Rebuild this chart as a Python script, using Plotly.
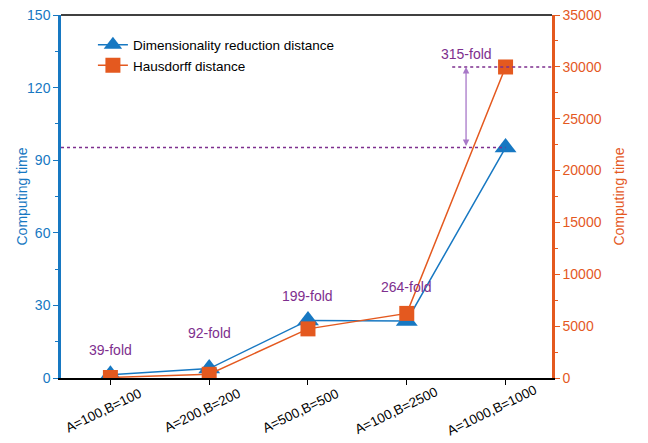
import plotly.graph_objects as go

categories = ["A=100,B=100", "A=200,B=200", "A=500,B=500", "A=100,B=2500", "A=1000,B=1000"]
dr_time = [1.3, 3.9, 23.8, 23.6, 95.2]
hd_time = [51, 359, 4736, 6230, 29988]
fold_labels = ["39-fold", "92-fold", "199-fold", "264-fold", "315-fold"]
left_ticks = [0, 30, 60, 90, 120, 150]
right_ticks = [0, 5000, 10000, 15000, 20000, 25000, 30000, 35000]

BLUE = "#1778C2"
ORANGE = "#E4591F"
PURPLE = "#7E2F8E"
FONT = "Liberation Sans, Arial, sans-serif"

x = list(range(len(categories)))

fig = go.Figure()
fig.add_trace(go.Scatter(
    x=x, y=dr_time, name="Dimensionality reduction distance", mode="lines+markers",
    line=dict(color=BLUE, width=1.5),
    marker=dict(symbol="triangle-up", size=19, color=BLUE), yaxis="y"))
fig.add_trace(go.Scatter(
    x=x, y=hd_time, name="Hausdorff distance", mode="lines+markers",
    line=dict(color=ORANGE, width=1.5),
    marker=dict(symbol="square", size=15, color=ORANGE), yaxis="y2"))

ymax1 = 150
ymax2 = 35000
top_in_y1 = hd_time[-1] / ymax2 * ymax1

# dotted guide lines
fig.add_shape(type="line", xref="x", yref="y", x0=-0.5, x1=x[-1], y0=dr_time[-1], y1=dr_time[-1],
              line=dict(color=PURPLE, width=1.5, dash="dot"))
fig.add_shape(type="line", xref="x", yref="y", x0=3.46, x1=4.47, y0=top_in_y1, y1=top_in_y1,
              line=dict(color=PURPLE, width=1.5, dash="dot"))
# top border
fig.add_shape(type="line", xref="paper", yref="paper", x0=0, x1=1, y0=1, y1=1,
              line=dict(color="black", width=1.5))
# double arrow
fig.add_annotation(x=3.6, y=top_in_y1, ax=3.6, ay=dr_time[-1], xref="x", yref="y",
                   axref="x", ayref="y", showarrow=True, arrowside="end+start",
                   arrowhead=2, startarrowhead=2, arrowsize=1, startarrowsize=1,
                   arrowwidth=1.3, arrowcolor="#A878C8", text="")

fold_pos = [(0, 11.6), (1, 18.6), (2, 33.9), (3, 37.6), (3.6, 133.9)]
for (px, py), t in zip(fold_pos, fold_labels):
    fig.add_annotation(x=px, y=py, xref="x", yref="y", text=t, showarrow=False,
                       font=dict(color=PURPLE, size=14, family=FONT))

# rotated category labels (rotated about their centre, as in the reference)
for i, c in enumerate(categories):
    fig.add_annotation(x=i, y=0, xref="x", yref="paper", text=c, showarrow=False,
                       textangle=-26, xanchor="center", yanchor="middle",
                       xshift=-7 - (len(c) - 11) * 3.5, yshift=-32,
                       font=dict(color="black", size=13.5, family=FONT))

# left axis title
fig.add_annotation(x=0, y=0.5, xref="paper", yref="paper", text="Computing time",
                   showarrow=False, textangle=-90, xanchor="center", yanchor="middle",
                   xshift=-40, font=dict(color=BLUE, size=14, family=FONT))

# the page adds an 8px body margin, so the figure is 8px smaller with margins trimmed
fig.update_layout(
    width=640, height=435,
    margin=dict(l=53, r=96, t=7, b=65, autoexpand=False),
    plot_bgcolor="white", paper_bgcolor="white",
    font=dict(family=FONT, size=14),
    showlegend=True,
    legend=dict(x=0.065, y=0.96, xanchor="left", yanchor="top", bgcolor="rgba(0,0,0,0)",
                font=dict(size=13.5, color="black", family=FONT), tracegroupgap=0,
                itemwidth=30),
    xaxis=dict(range=[-0.5, 4.47], tickmode="array", tickvals=x, showticklabels=False,
               showgrid=False, zeroline=False, showline=True,
               linecolor="black", linewidth=1.5, ticks="outside", ticklen=5,
               tickcolor="black", automargin=False),
    yaxis=dict(range=[0, ymax1], tickvals=left_ticks, showgrid=False, zeroline=False,
               showline=True, linecolor=BLUE, linewidth=2.5, ticks="outside", ticklen=5,
               tickcolor=BLUE, tickfont=dict(color=BLUE, size=14), automargin=False,
               ticklabeloverflow="allow",
               minor=dict(ticks="outside", ticklen=3, tickcolor=BLUE, dtick=15)),
    yaxis2=dict(range=[0, ymax2], tickmode="array", tickvals=right_ticks,
                ticktext=[str(v) for v in right_ticks], overlaying="y", side="right",
                showgrid=False, zeroline=False, showline=True, linecolor=ORANGE,
                linewidth=2.5, ticks="outside", ticklen=5, tickcolor=ORANGE,
                tickfont=dict(color=ORANGE, size=14), automargin=False,
                ticklabeloverflow="allow",
                minor=dict(ticks="outside", ticklen=3, tickcolor=ORANGE, dtick=2500),
                title=dict(text="Computing time", font=dict(color=ORANGE, size=14), standoff=14)),
)

fig.write_html("out.html")
